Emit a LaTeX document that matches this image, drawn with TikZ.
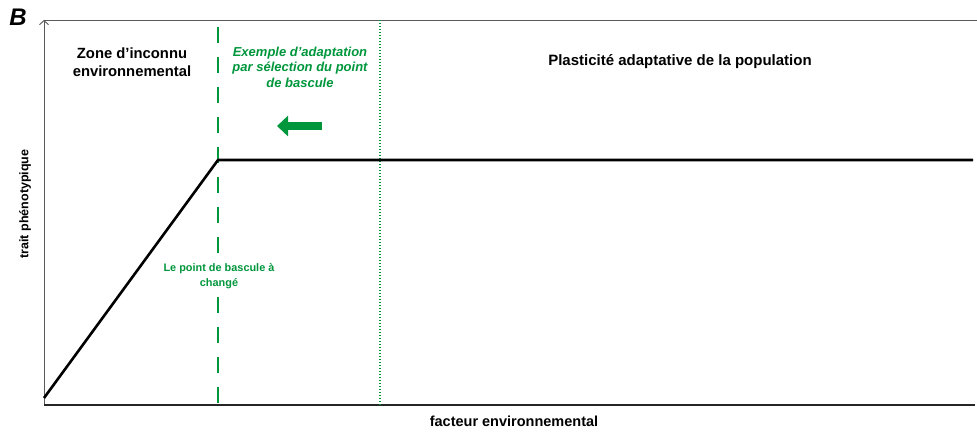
\documentclass[tikz,border=0pt]{standalone}
\usepackage{fontspec}
\setmainfont{Liberation Sans}
\usetikzlibrary{arrows.meta}
\definecolor{vert}{RGB}{0,150,60}
\definecolor{axisgray}{RGB}{90,90,90}
\tikzset{
  lbl/.style={font=\bfseries\fontsize{14.8}{18}\selectfont, align=center, inner sep=0pt},
  glbl/.style={font=\bfseries\itshape\fontsize{13}{15.5}\selectfont, text=vert, align=center, inner sep=0pt},
  gsmall/.style={font=\bfseries\fontsize{10.9}{15}\selectfont, text=vert, align=center, inner sep=2pt, fill=white},
  curve/.style={line width=2.6pt, black},
}
\begin{document}
\begin{tikzpicture}[x=1pt,y=-1pt]
\useasboundingbox (0,0) rectangle (977,432);
% axes
\coordinate (origin) at (44,405);
\coordinate (ytop) at (44,20);
\coordinate (xend) at (975,405);
\coordinate (topend) at (977,20);
\draw[line width=0.5pt, axisgray] (ytop) -- (topend);
\draw[line width=0.9pt, axisgray, -{Straight Barb[length=4pt,width=9pt]}] (origin) -- (ytop);
\draw[line width=1.8pt, black!85] (origin) -- (xend);
% vertical green lines
\coordinate (dashtop) at (218,27);
\coordinate (dashbot) at (218,405);
\draw[vert, line width=2.6pt, dash pattern=on 16pt off 14pt] (dashtop) -- (dashbot);
\coordinate (dottop) at (380,20);
\coordinate (dotbot) at (380,405);
\draw[vert, line width=1.1pt, dash pattern=on 1pt off 2pt] (dottop) -- (dotbot);
% curve
\coordinate (c0) at (44,398);
\coordinate (c1) at (218,160);
\coordinate (c2) at (973,160);
\draw[curve, line join=round] (c0) -- (c1) -- (c2);
% arrow
\coordinate (a0) at (322,126);
\coordinate (a1) at (277,126);
\draw[vert, line width=8pt, -{Triangle[length=11pt,width=20pt]}] (a0) -- (a1);
% texts
\node[font=\bfseries\itshape\fontsize{24}{24}\selectfont, inner sep=0pt] (B) at (18,17) {B};
\node[lbl] (zone) at (132,62) {Zone d’inconnu\\environnemental};
\node[glbl] (ex) at (300,67) {Exemple d’adaptation\\par sélection du point\\de bascule};
\node[lbl, font=\bfseries\fontsize{15}{16}\selectfont] (plast) at (680,62) {Plasticité adaptative de la population};
\node[gsmall] (pb) at (219,276) {Le point de bascule à\\changé};
\node[lbl, font=\bfseries\fontsize{12.5}{14}\selectfont, rotate=90] (ylab) at (25,204) {trait phénotypique};
\node[lbl, font=\bfseries\fontsize{14.5}{14}\selectfont] (xlab) at (514,421) {facteur environnemental};
\end{tikzpicture}
\end{document}
